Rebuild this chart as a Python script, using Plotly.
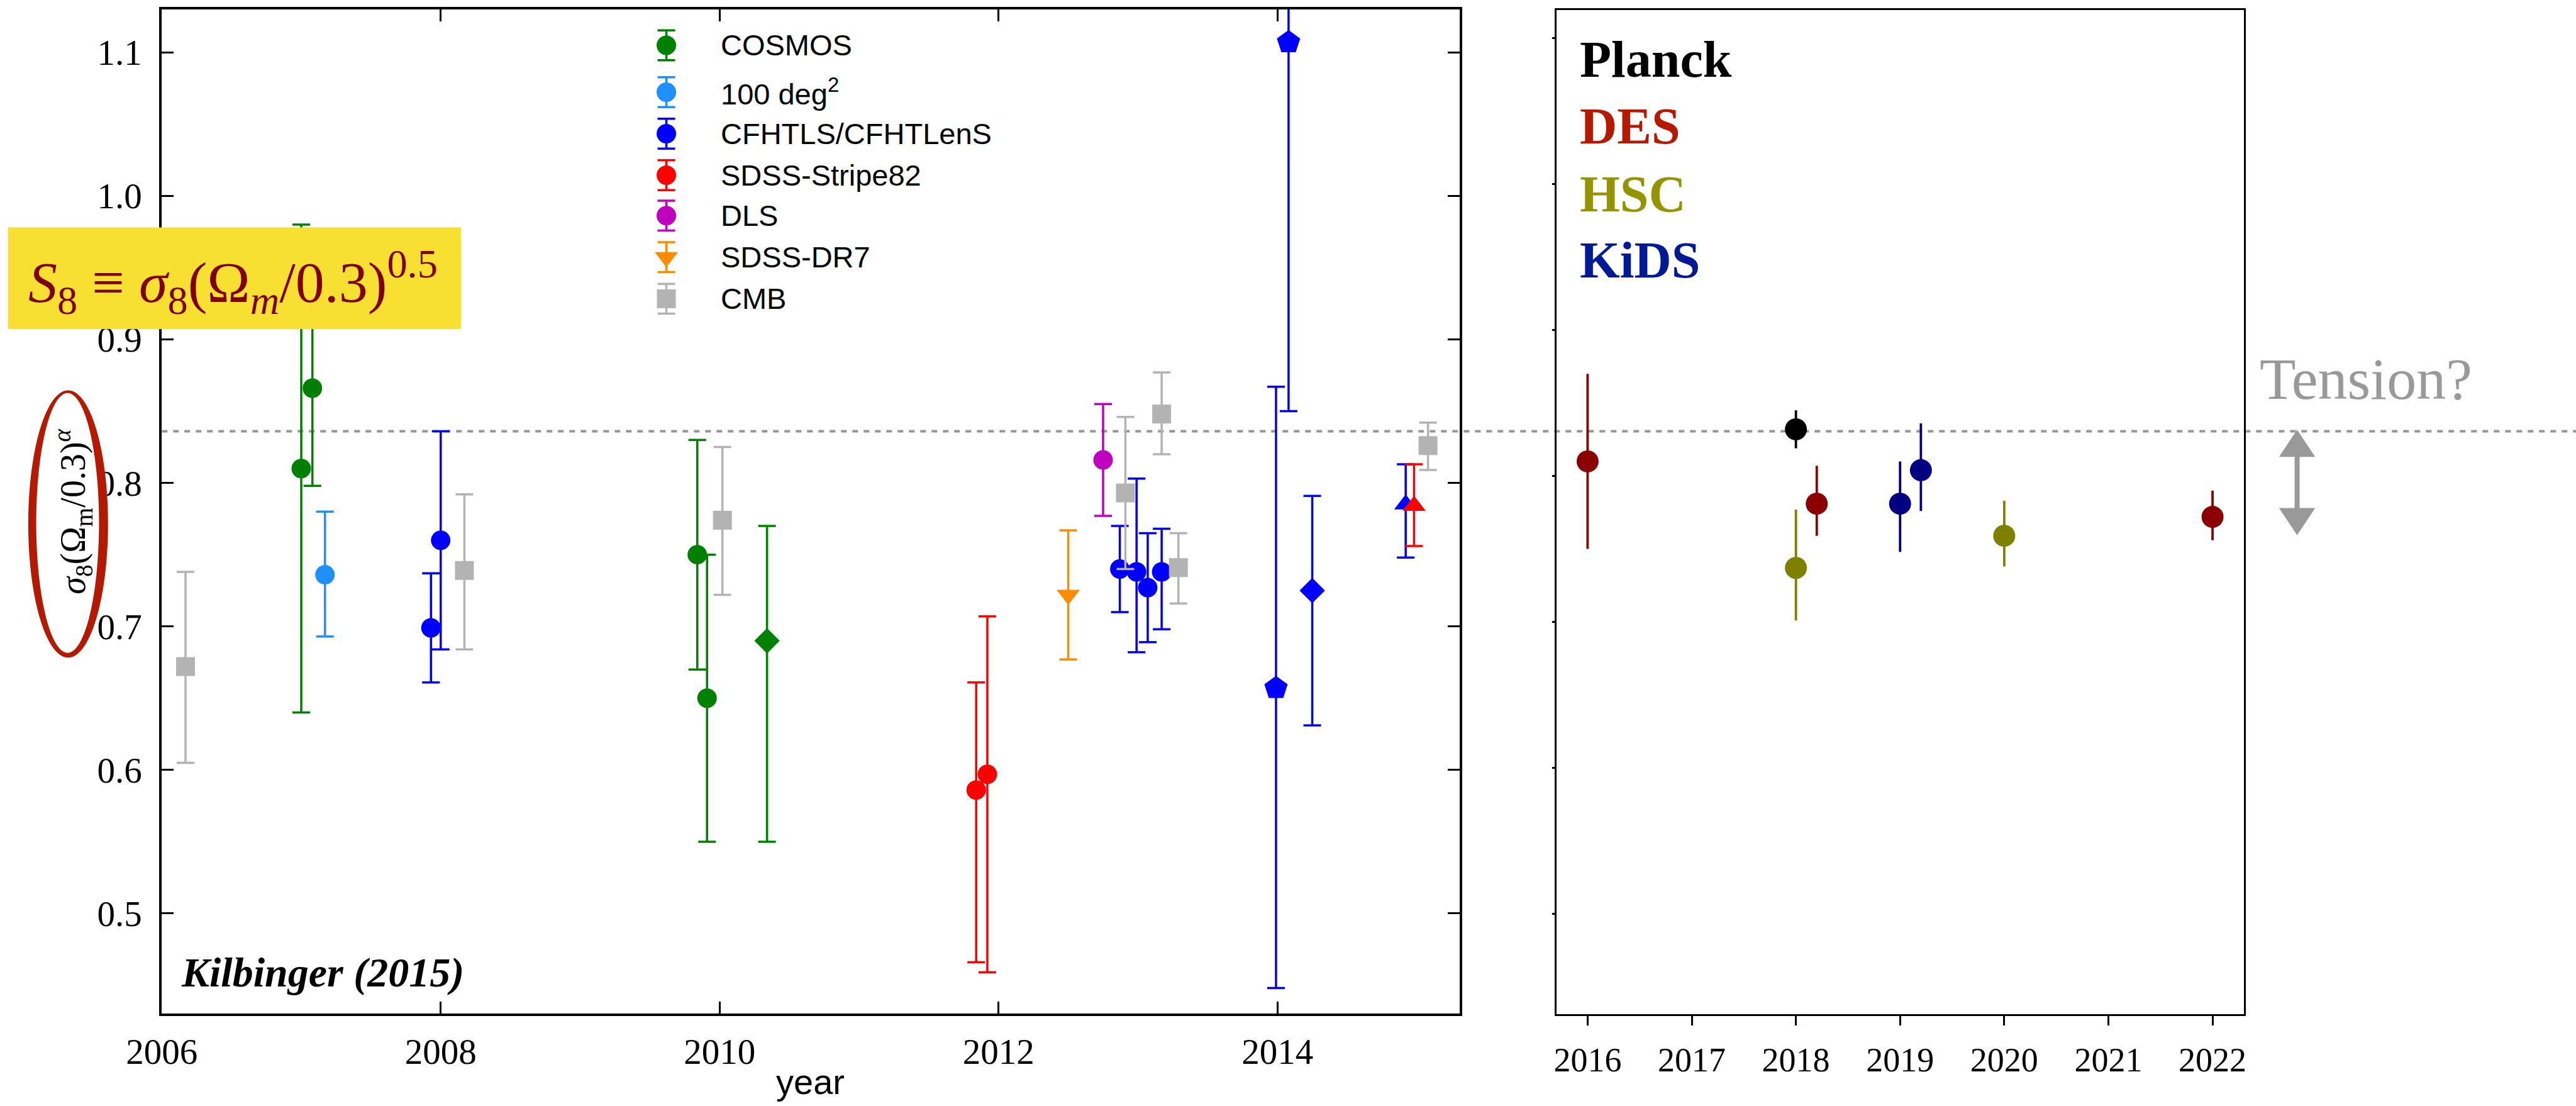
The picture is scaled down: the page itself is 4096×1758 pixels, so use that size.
import numpy as np
import plotly.graph_objects as go

# ---------------------------------------------------------------------------
# S8 = sigma8 (Omega_m / 0.3)^alpha measurements
# ---------------------------------------------------------------------------
# Left panel: compilation of Kilbinger (2015)
cosmos_year = [2007.00, 2007.08, 2009.84, 2009.91, 2010.34]
cosmos_s8 = [0.810, 0.866, 0.750, 0.650, 0.690]
cosmos_hi = [0.170, 0.068, 0.080, 0.100, 0.080]
cosmos_lo = [0.170, 0.068, 0.080, 0.100, 0.140]
cosmos_sym = ["circle", "circle", "circle", "circle", "diamond"]

deg100_year = [2007.17]
deg100_s8 = [0.736]
deg100_hi = [0.044]
deg100_lo = [0.043]
deg100_sym = ["circle"]

cfhtls_year = [2007.93, 2008.00, 2012.87, 2012.99, 2013.07, 2013.17,
               2013.99, 2014.08, 2014.25, 2014.92]
cfhtls_s8 = [0.699, 0.760, 0.740, 0.738, 0.727, 0.738,
             0.657, 1.107, 0.725, 0.785]
cfhtls_hi = [0.038, 0.076, 0.030, 0.065, 0.038, 0.030,
             0.210, 0.257, 0.066, 0.028]
cfhtls_lo = [0.038, 0.076, 0.030, 0.056, 0.038, 0.040,
             0.209, 0.257, 0.094, 0.037]
cfhtls_sym = ["circle"] * 6 + ["pentagon", "pentagon", "diamond", "triangle-up"]

s82_year = [2011.84, 2011.92, 2014.98]
s82_s8 = [0.586, 0.597, 0.784]
s82_hi = [0.075, 0.110, 0.029]
s82_lo = [0.120, 0.138, 0.028]
s82_sym = ["circle", "circle", "triangle-up"]

dls_year = [2012.75]
dls_s8 = [0.816]
dls_hi = [0.039]
dls_lo = [0.039]
dls_sym = ["circle"]

dr7_year = [2012.50]
dr7_s8 = [0.722]
dr7_hi = [0.045]
dr7_lo = [0.045]
dr7_sym = ["triangle-down"]

cmb_year = [2006.17, 2008.17, 2010.02, 2012.91, 2013.17, 2013.29, 2015.08]
cmb_s8 = [0.672, 0.739, 0.774, 0.793, 0.848, 0.741, 0.826]
cmb_hi = [0.066, 0.053, 0.051, 0.053, 0.029, 0.024, 0.016]
cmb_lo = [0.067, 0.055, 0.052, 0.053, 0.028, 0.025, 0.017]
cmb_sym = ["square"] * 7

# Right panel: recent surveys
planck_year = [2018.0]
planck_s8 = [0.832]
planck_hi = [0.013]
planck_lo = [0.013]

des_year = [2016.0, 2018.2, 2022.0]
des_s8 = [0.810, 0.781, 0.772]
des_hi = [0.060, 0.026, 0.018]
des_lo = [0.060, 0.022, 0.016]

hsc_year = [2018.0, 2020.0]
hsc_s8 = [0.737, 0.759]
hsc_hi = [0.040, 0.024]
hsc_lo = [0.036, 0.021]

kids_year = [2019.0, 2019.2]
kids_s8 = [0.781, 0.804]
kids_hi = [0.029, 0.032]
kids_lo = [0.033, 0.028]

# Reference value drawn as a dashed line across both panels
reference_s8 = 0.836

left_xticks = [2006, 2008, 2010, 2012, 2014]
right_xticks = [2016, 2017, 2018, 2019, 2020, 2021, 2022]
s8_ticks = [0.5, 0.6, 0.7, 0.8, 0.9, 1.0, 1.1]

legend_names = ["COSMOS", "100 deg<sup>2</sup>", "CFHTLS/CFHTLenS",
                "SDSS-Stripe82", "DLS", "SDSS-DR7", "CMB"]

# ---------------------------------------------------------------------------
# Layout helpers: positions given in a 4840 x 2077 frame, scaled to output
# ---------------------------------------------------------------------------
W, H = 4840.0, 2077.0
OUT_W, OUT_H = 4096, 1758
S = OUT_W / W


def px(x):
    return x / W


def py(y):
    return 1 - y / H


SERIF = "Liberation Serif"
SANS = "Liberation Sans"

SYMBOL_SIZE = {"circle": 31, "square": 30, "diamond": 31, "pentagon": 39,
               "triangle-up": 32, "triangle-down": 32}

left_dom_x = [px(304), px(2742)]
left_dom_y = [py(1903), py(17.5)]
left_range_x = [2006.0, 2015.305]
left_range_y = [0.4304, 1.130]

right_dom_x = [px(2925), px(4216)]
right_dom_y = [py(1905), py(19)]
right_range_x = [2015.704, 2022.301]
right_range_y = [0.431, 1.1193]

fig = go.Figure()

left_series = [
    (cosmos_year, cosmos_s8, cosmos_hi, cosmos_lo, cosmos_sym, "#008000", "COSMOS"),
    (deg100_year, deg100_s8, deg100_hi, deg100_lo, deg100_sym, "#1E90FF", "100 deg2"),
    (cfhtls_year, cfhtls_s8, cfhtls_hi, cfhtls_lo, cfhtls_sym, "#0000FF", "CFHTLS/CFHTLenS"),
    (s82_year, s82_s8, s82_hi, s82_lo, s82_sym, "#FF0000", "SDSS-Stripe82"),
    (dls_year, dls_s8, dls_hi, dls_lo, dls_sym, "#BF00BF", "DLS"),
    (dr7_year, dr7_s8, dr7_hi, dr7_lo, dr7_sym, "#FF8C00", "SDSS-DR7"),
    (cmb_year, cmb_s8, cmb_hi, cmb_lo, cmb_sym, "#B3B3B3", "CMB"),
]

for yr, val, hi, lo, sym, col, name in left_series:
    fig.add_trace(go.Scatter(
        x=yr, y=val, mode="markers", name=name, showlegend=False,
        marker=dict(symbol=sym, size=[SYMBOL_SIZE[s] for s in sym],
                    color=col, opacity=1, line=dict(width=0)),
        error_y=dict(type="data", symmetric=False, array=hi, arrayminus=lo,
                     color=col, thickness=3.5, width=14),
        xaxis="x", yaxis="y",
    ))

right_series = [
    (planck_year, planck_s8, planck_hi, planck_lo, "#000000", "Planck"),
    (des_year, des_s8, des_hi, des_lo, "#8B0000", "DES"),
    (hsc_year, hsc_s8, hsc_hi, hsc_lo, "#808000", "HSC"),
    (kids_year, kids_s8, kids_hi, kids_lo, "#000080", "KiDS"),
]

for yr, val, hi, lo, col, name in right_series:
    fig.add_trace(go.Scatter(
        x=yr, y=val, mode="markers", name=name, showlegend=False,
        marker=dict(symbol="circle", size=35, color=col, opacity=1,
                    line=dict(width=0)),
        error_y=dict(type="data", symmetric=False, array=hi, arrayminus=lo,
                     color=col, thickness=3.8, width=0),
        xaxis="x2", yaxis="y2",
    ))

# Hand-made legend keys (marker with capped error bar) on a full-page overlay
legend_key_x = px(1252)
legend_text_x = px(1352)
legend_row_y = [85, 173, 251, 329, 405, 483, 561]
for (yr, val, hi, lo, sym, col, name), row, label in zip(left_series, legend_row_y, legend_names):
    fig.add_trace(go.Scatter(
        x=[legend_key_x], y=[py(row)], mode="markers", showlegend=False,
        marker=dict(symbol=sym[0], size=SYMBOL_SIZE[sym[0]], color=col,
                    opacity=1, line=dict(width=0)),
        error_y=dict(type="constant", value=28 / H, color=col, thickness=3.5, width=14),
        xaxis="x3", yaxis="y3", hoverinfo="skip",
    ))
    fig.add_annotation(x=legend_text_x, y=py(row), xref="paper", yref="paper",
                       text=label, showarrow=False, xanchor="left", yanchor="middle",
                       font=dict(family=SANS, size=47, color="black"))

left_tick_font = dict(family=SERIF, size=57, color="black")
right_tick_font = dict(family=SERIF, size=54, color="black")

fig.update_layout(
    width=OUT_W, height=OUT_H,
    margin=dict(l=0, r=0, t=0, b=0, pad=0, autoexpand=False),
    paper_bgcolor="white", plot_bgcolor="rgba(0,0,0,0)",
    showlegend=False,
    xaxis=dict(domain=left_dom_x, range=left_range_x, tickvals=left_xticks,
               ticks="inside", ticklen=19, tickwidth=2.5, tickcolor="black",
               mirror="ticks", showline=True, linewidth=4, linecolor="black",
               showgrid=False, zeroline=False, tickfont=left_tick_font,
               ticklabelstandoff=8, anchor="y", automargin=False),
    yaxis=dict(domain=left_dom_y, range=left_range_y, tickvals=s8_ticks,
               tickformat=".1f", ticks="inside", ticklen=19, tickwidth=2.5,
               tickcolor="black", mirror="ticks", showline=True, linewidth=4,
               linecolor="black", showgrid=False, zeroline=False,
               tickfont=left_tick_font, ticklabelstandoff=16, anchor="x",
               automargin=False),
    xaxis2=dict(domain=right_dom_x, range=right_range_x, tickvals=right_xticks,
                ticks="outside", ticklen=15, tickwidth=2.5, tickcolor="black",
                mirror=True, showline=True, linewidth=3, linecolor="black",
                showgrid=False, zeroline=False, tickfont=right_tick_font,
                ticklabelstandoff=8, anchor="y2", automargin=False),
    yaxis2=dict(domain=right_dom_y, range=right_range_y, tickvals=s8_ticks,
                ticks="outside", ticklen=4, tickwidth=3, tickcolor="black",
                showticklabels=False, mirror=True, showline=True, linewidth=3,
                linecolor="black", showgrid=False, zeroline=False, anchor="x2",
                automargin=False),
    xaxis3=dict(domain=[0, 1], range=[0, 1], visible=False, anchor="y3",
                automargin=False),
    yaxis3=dict(domain=[0, 1], range=[0, 1], visible=False, anchor="x3",
                automargin=False),
)

# Dashed reference line, placed at reference_s8 on the left axis scale
ref_paper_y = left_dom_y[0] + (reference_s8 - left_range_y[0]) / (
    left_range_y[1] - left_range_y[0]) * (left_dom_y[1] - left_dom_y[0])
fig.add_shape(type="line", xref="paper", yref="paper",
              x0=left_dom_x[0], x1=1.0, y0=ref_paper_y, y1=ref_paper_y,
              line=dict(color="#969696", width=4, dash="9px,9px"), layer="below")

# Yellow definition box
fig.add_shape(type="rect", xref="paper", yref="paper",
              x0=px(15), x1=px(866), y0=py(618), y1=py(427),
              fillcolor="#F8E032", line=dict(width=0), layer="above")
fig.add_annotation(
    x=px(438), y=py(530), xref="paper", yref="paper", showarrow=False,
    xanchor="center", yanchor="middle",
    text="<i>S</i><sub>8</sub> \u2261 <i>\u03c3</i><sub>8</sub>(\u03a9<sub><i>m</i></sub>/0.3)<sup>0.5</sup>",
    font=dict(family=SERIF, size=92, color="#800000"))

# Y-axis title with a brush-stroke ellipse around it
t = np.linspace(0, 2 * np.pi, 121)
outer_x = 128 + 75 * np.cos(t)
outer_y = 984 + 251 * np.sin(t)
inner_x = 127 + 59 * np.cos(t)
inner_y = 982 + 244 * np.sin(t)


def ring_path(xs, ys):
    pts = " L".join(f"{px(a):.5f},{py(b):.5f}" for a, b in zip(xs, ys))
    return "M" + pts + " Z"


fig.add_shape(type="path", xref="paper", yref="paper",
              path=ring_path(outer_x, outer_y) + " " + ring_path(inner_x[::-1], inner_y[::-1]),
              fillcolor="#B41A00", line=dict(width=0), fillrule="evenodd", layer="above")
fig.add_annotation(
    x=px(136), y=py(960), xref="paper", yref="paper", showarrow=False,
    xanchor="center", yanchor="middle", textangle=-90,
    text="<i>\u03c3</i><sub>8</sub>(\u03a9<sub>m</sub>/0.3)<sup><i>\u03b1</i></sup>",
    font=dict(family=SERIF, size=56, color="black"))

# x-axis title of the left panel
fig.add_annotation(x=px(1523), y=py(2032), xref="paper", yref="paper",
                   text="year", showarrow=False, xanchor="center", yanchor="middle",
                   font=dict(family=SANS, size=56, color="black"))

# Source credit
fig.add_annotation(x=px(338), y=py(1826), xref="paper", yref="paper",
                   text="<b><i>Kilbinger (2015)</i></b>", showarrow=False,
                   xanchor="left", yanchor="middle",
                   font=dict(family=SERIF, size=66, color="black"))

# Survey labels in the right panel
survey_labels = [("Planck", "#000000", 112), ("DES", "#B51A00", 237),
                 ("HSC", "#949400", 364), ("KiDS", "#001A96", 489)]
for txt, col, yc in survey_labels:
    fig.add_annotation(x=px(2966), y=py(yc), xref="paper", yref="paper",
                       text=f"<b>{txt}</b>", showarrow=False,
                       xanchor="left", yanchor="middle",
                       font=dict(family=SERIF, size=82, color=col))

# "Tension?" with a double-headed arrow below the reference line
fig.add_annotation(x=px(4243), y=py(711), xref="paper", yref="paper",
                   text="Tension?", showarrow=False, xanchor="left", yanchor="middle",
                   font=dict(family=SERIF, size=94, color="#999999"))

arrow_x = 4316
fig.add_shape(type="line", xref="paper", yref="paper",
              x0=px(arrow_x), x1=px(arrow_x), y0=py(850), y1=py(962),
              line=dict(color="#999999", width=8), layer="above")
for tip, base in [(807, 858), (1005, 954)]:
    fig.add_shape(type="path", xref="paper", yref="paper",
                  path=(f"M{px(arrow_x):.5f},{py(tip):.5f} "
                        f"L{px(arrow_x - 34):.5f},{py(base):.5f} "
                        f"L{px(arrow_x + 34):.5f},{py(base):.5f} Z"),
                  fillcolor="#999999", line=dict(width=0), layer="above")

fig.write_html("out.html")
